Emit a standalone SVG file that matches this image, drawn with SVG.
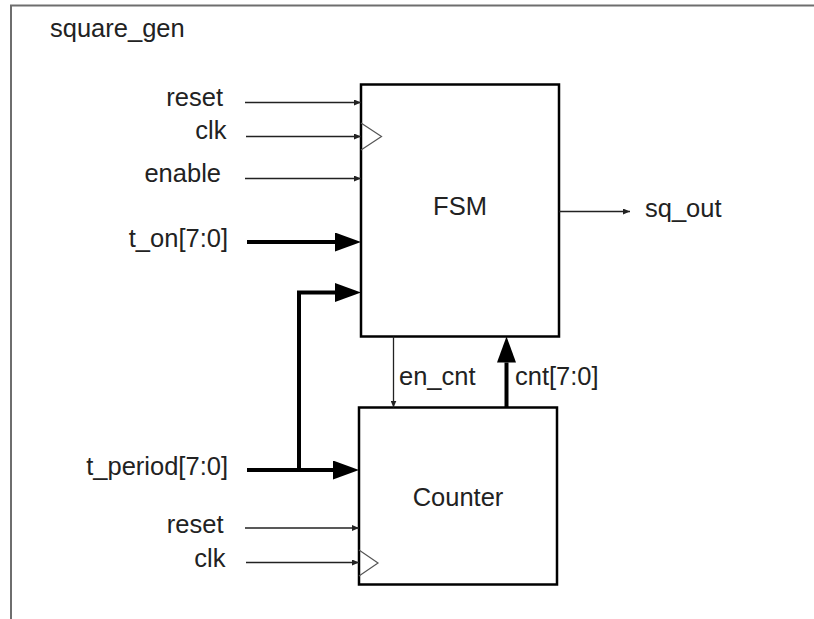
<svg xmlns="http://www.w3.org/2000/svg" width="814" height="619" viewBox="0 0 814 619">
  <defs>
    <style>
      .txt { font-family: "Liberation Sans", Arial, sans-serif; font-size: 25.5px; fill: #222; }
      .end { text-anchor: end; }
      .mid { text-anchor: middle; }
      .box { fill: #fff; stroke: #000; stroke-width: 2.5; }
      .thin { fill: none; stroke: #222; stroke-width: 1.3; marker-end: url(#small); }
      .bus { fill: none; stroke: #000; stroke-width: 4; marker-end: url(#big); }
      .clkmark { fill: none; stroke: #555; stroke-width: 1.2; }
      .frame { fill: none; stroke: #6e6e6e; stroke-width: 2; }
    </style>
    <marker id="small" markerUnits="userSpaceOnUse" markerWidth="7" markerHeight="6" refX="7" refY="3" orient="auto">
      <path d="M0,0 L7,3 L0,6 z" fill="#222"/>
    </marker>
    <marker id="big" markerUnits="userSpaceOnUse" markerWidth="26" markerHeight="19" refX="0" refY="9.5" orient="auto">
      <path d="M0,0 L26,9.5 L0,19 z" fill="#000"/>
    </marker>
  </defs>

  <rect width="814" height="619" fill="#fff"/>

  <g id="frame">
    <path class="frame" d="M11,619 V5.5 H814"/>
    <text class="txt" x="50" y="37">square_gen</text>
  </g>

  <g id="fsm">
    <rect class="box" x="361" y="84.5" width="198" height="252"/>
    <path class="clkmark" d="M361,123 L381.5,136.5 L361,150"/>
    <text class="txt mid" x="460" y="215">FSM</text>
  </g>

  <g id="counter">
    <rect class="box" x="359" y="407.5" width="198" height="177"/>
    <path class="clkmark" d="M359,550 L378,563 L359,576"/>
    <text class="txt mid" x="458" y="506">Counter</text>
  </g>

  <g id="labels">
    <text class="txt end" x="223" y="106">reset</text>
    <text class="txt end" x="226.5" y="138.5">clk</text>
    <text class="txt end" x="221" y="182">enable</text>
    <text class="txt end" x="228" y="247">t_on[7:0]</text>
    <text class="txt end" x="228" y="475">t_period[7:0]</text>
    <text class="txt end" x="223.5" y="533">reset</text>
    <text class="txt end" x="225.5" y="567">clk</text>
    <text class="txt" x="399" y="384.5">en_cnt</text>
    <text class="txt" x="515" y="384.5">cnt[7:0]</text>
    <text class="txt" x="645" y="216.5">sq_out</text>
  </g>

  <g id="connectors">
    <path class="thin" d="M245,102.5 H361"/>
    <path class="thin" d="M246,136.5 H361"/>
    <path class="thin" d="M245,178.5 H361"/>
    <path class="bus" d="M247,242 H335"/>
    <path class="bus" d="M299,470 V292.5 H335"/>
    <path class="bus" d="M247,470 H333"/>
    <path class="thin" d="M245,528 H359"/>
    <path class="thin" d="M246,562.5 H359"/>
    <path class="thin" d="M393.5,336.5 V407.5"/>
    <path class="bus" d="M506.5,407.5 V362.5"/>
    <path class="thin" d="M559,211.5 H630"/>
  </g>
</svg>
